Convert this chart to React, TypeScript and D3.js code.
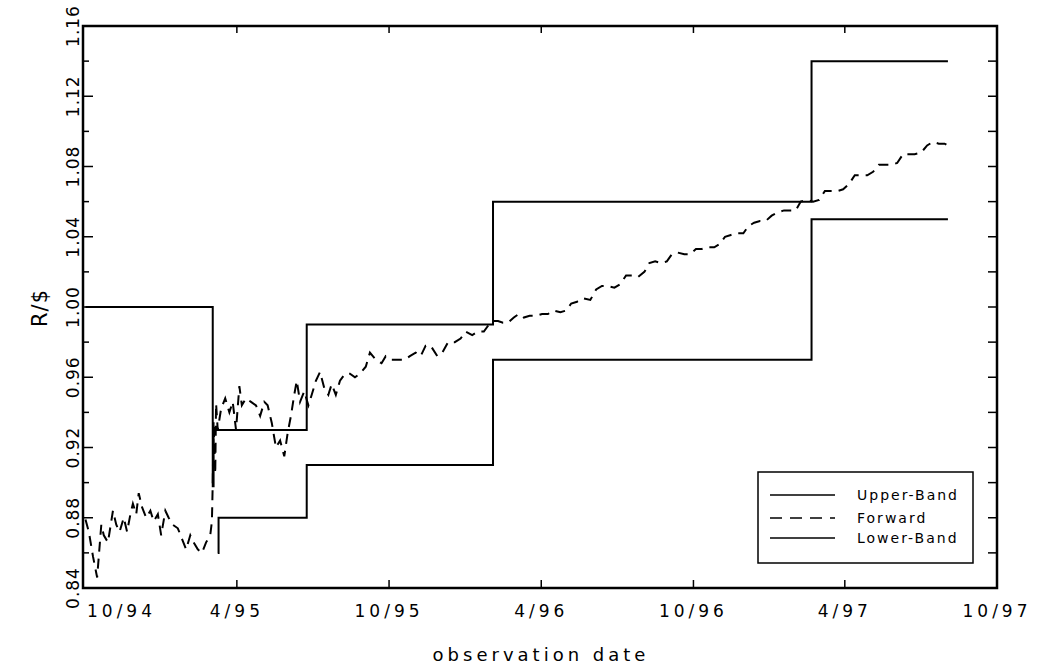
import * as d3 from 'd3'
import React from 'react'

type Pt = [string, number]

// step bands: value holds from the date until the next entry
const upperBand: Pt[] = [
  ['1994-10-01', 1.00], ['1995-03-03', 0.898], ['1995-03-04', 0.93],
  ['1995-06-24', 0.99], ['1996-02-03', 1.06], ['1997-02-20', 1.14], ['1997-08-03', 1.14],
]
const lowerBand: Pt[] = [
  ['1995-03-09', 0.86], ['1995-03-10', 0.88], ['1995-06-24', 0.91],
  ['1996-02-03', 0.97], ['1997-02-20', 1.05], ['1997-08-03', 1.05],
]
const forward: Pt[] = [
  ['1994-10-01', 0.879], ['1994-10-05', 0.872], ['1994-10-10', 0.858], ['1994-10-15', 0.846],
  ['1994-10-20', 0.876], ['1994-10-23', 0.870], ['1994-10-28', 0.866], ['1994-11-03', 0.884],
  ['1994-11-07', 0.876], ['1994-11-11', 0.872], ['1994-11-16', 0.880], ['1994-11-20', 0.872],
  ['1994-11-24', 0.882], ['1994-11-27', 0.888], ['1994-12-01', 0.882], ['1994-12-04', 0.894],
  ['1994-12-08', 0.886], ['1994-12-13', 0.880], ['1994-12-18', 0.884], ['1994-12-22', 0.878],
  ['1994-12-27', 0.882], ['1994-12-31', 0.870], ['1995-01-05', 0.884], ['1995-01-09', 0.880],
  ['1995-01-14', 0.876], ['1995-01-20', 0.874], ['1995-01-25', 0.868], ['1995-01-30', 0.862],
  ['1995-02-04', 0.870], ['1995-02-08', 0.866], ['1995-02-13', 0.862], ['1995-02-18', 0.860],
  ['1995-02-23', 0.866], ['1995-02-28', 0.870], ['1995-03-02', 0.878], ['1995-03-03', 0.900],
  ['1995-03-04', 0.935], ['1995-03-06', 0.905], ['1995-03-07', 0.945], ['1995-03-09', 0.930],
  ['1995-03-13', 0.942], ['1995-03-18', 0.948], ['1995-03-23', 0.940], ['1995-03-27', 0.946],
  ['1995-03-31', 0.930], ['1995-04-04', 0.955], ['1995-04-07', 0.944], ['1995-04-12', 0.948],
  ['1995-04-18', 0.946], ['1995-04-24', 0.944], ['1995-04-29', 0.938], ['1995-05-04', 0.946],
  ['1995-05-08', 0.944], ['1995-05-13', 0.934], ['1995-05-18', 0.920], ['1995-05-23', 0.924],
  ['1995-05-28', 0.915], ['1995-06-01', 0.928], ['1995-06-05', 0.938], ['1995-06-09', 0.950],
  ['1995-06-12', 0.958], ['1995-06-16', 0.946], ['1995-06-21', 0.952], ['1995-06-26', 0.944],
  ['1995-06-30', 0.950], ['1995-07-05', 0.958], ['1995-07-10', 0.963], ['1995-07-15', 0.954],
  ['1995-07-20', 0.950], ['1995-07-24', 0.956], ['1995-07-29', 0.950], ['1995-08-03', 0.958],
  ['1995-08-09', 0.962], ['1995-08-15', 0.962], ['1995-08-21', 0.960], ['1995-08-27', 0.962],
  ['1995-09-03', 0.966], ['1995-09-08', 0.974], ['1995-09-15', 0.970], ['1995-09-22', 0.968],
  ['1995-09-27', 0.972], ['1995-10-04', 0.970], ['1995-10-12', 0.970], ['1995-10-20', 0.970],
  ['1995-10-26', 0.972], ['1995-11-02', 0.974], ['1995-11-08', 0.972], ['1995-11-14', 0.978],
  ['1995-11-20', 0.978], ['1995-11-28', 0.972], ['1995-12-04', 0.974], ['1995-12-11', 0.980],
  ['1995-12-19', 0.980], ['1995-12-26', 0.982], ['1996-01-01', 0.986], ['1996-01-09', 0.984],
  ['1996-01-16', 0.986], ['1996-01-23', 0.986], ['1996-01-29', 0.990], ['1996-02-03', 0.992],
  ['1996-02-09', 0.992], ['1996-02-15', 0.991], ['1996-02-21', 0.991], ['1996-02-28', 0.994],
  ['1996-03-05', 0.996], ['1996-03-11', 0.994], ['1996-03-18', 0.995], ['1996-03-26', 0.995],
  ['1996-04-02', 0.996], ['1996-04-09', 0.996], ['1996-04-16', 0.998], ['1996-04-24', 0.997],
  ['1996-05-01', 0.998], ['1996-05-07', 1.002], ['1996-05-14', 1.003], ['1996-05-21', 1.005],
  ['1996-05-30', 1.004], ['1996-06-06', 1.010], ['1996-06-13', 1.012], ['1996-06-20', 1.012],
  ['1996-06-28', 1.011], ['1996-07-05', 1.013], ['1996-07-12', 1.018], ['1996-07-19', 1.018],
  ['1996-07-26', 1.017], ['1996-08-03', 1.020], ['1996-08-09', 1.025], ['1996-08-16', 1.026],
  ['1996-08-23', 1.025], ['1996-08-30', 1.026], ['1996-09-05', 1.030], ['1996-09-12', 1.031],
  ['1996-09-20', 1.030], ['1996-09-27', 1.030], ['1996-10-04', 1.033], ['1996-10-11', 1.033],
  ['1996-10-18', 1.034], ['1996-10-26', 1.034], ['1996-11-02', 1.036], ['1996-11-08', 1.040],
  ['1996-11-15', 1.041], ['1996-11-22', 1.042], ['1996-11-30', 1.042], ['1996-12-06', 1.046],
  ['1996-12-13', 1.048], ['1996-12-20', 1.049], ['1996-12-27', 1.049], ['1997-01-03', 1.052],
  ['1997-01-11', 1.054], ['1997-01-18', 1.055], ['1997-01-25', 1.055], ['1997-02-01', 1.055],
  ['1997-02-07', 1.060], ['1997-02-15', 1.061], ['1997-02-22', 1.060], ['1997-03-01', 1.061],
  ['1997-03-08', 1.066], ['1997-03-15', 1.066], ['1997-03-23', 1.066], ['1997-03-30', 1.067],
  ['1997-04-06', 1.070], ['1997-04-13', 1.075], ['1997-04-20', 1.075], ['1997-04-28', 1.075],
  ['1997-05-05', 1.077], ['1997-05-12', 1.081], ['1997-05-19', 1.081], ['1997-05-27', 1.081],
  ['1997-06-03', 1.082], ['1997-06-10', 1.087], ['1997-06-17', 1.087], ['1997-06-24', 1.087],
  ['1997-07-02', 1.088], ['1997-07-09', 1.092], ['1997-07-16', 1.094], ['1997-07-23', 1.093],
  ['1997-07-30', 1.093], ['1997-08-03', 1.092],
]

const xTickDates = ['1995-04-01', '1995-10-01', '1996-04-01', '1996-10-01', '1997-04-01']
const xTickLabels = ['10/94', '4/95', '10/95', '4/96', '10/96', '4/97', '10/97']
const yTicks = d3.range(0.84, 1.1601, 0.02)
const legendItems = ['Upper-Band', 'Forward', 'Lower-Band']

const W = 1045, H = 667
const frame = { left: 83, right: 997, top: 26, bottom: 588 }
const font = '"DejaVu Sans", Arial, sans-serif'

const parse = d3.timeParse('%Y-%m-%d')

export default function App() {
  const
    x = d3.scaleTime()
      .domain([parse('1994-10-01')!, parse('1997-10-01')!])
      .range([85.5, frame.right]),
    y = d3.scaleLinear().domain([0.84, 1.16]).range([frame.bottom, frame.top]),
    step = d3.line<Pt>().x(d => x(parse(d[0])!)).y(d => y(d[1])).curve(d3.curveStepAfter),
    line = d3.line<Pt>().x(d => x(parse(d[0])!)).y(d => y(d[1])),
    labelDates = [x.domain()[0], ...xTickDates.map(s => parse(s)!), x.domain()[1]]

  const lg = { x: 758, y: 472, w: 215, h: 91 }

  return (
    <svg width={W} height={H} style={{ position: 'absolute', left: 0, top: 0, background: '#fff' }}
      fontFamily={font}>
      <rect width={W} height={H} fill='#fff' />

      <path d={step(upperBand)!} fill='none' stroke='#000' strokeWidth={2} />
      <path d={step(lowerBand)!} fill='none' stroke='#000' strokeWidth={2} />
      <path d={line(forward)!} fill='none' stroke='#000' strokeWidth={2} strokeDasharray='10,7' />

      {/* frame + ticks */}
      <rect x={frame.left} y={frame.top} width={frame.right - frame.left} height={frame.bottom - frame.top}
        fill='none' stroke='#000' strokeWidth={2.5} />
      {yTicks.map((v, i) => {
        const major = i % 2 === 0
        return (
          <g key={i}>
            <line x1={frame.left} x2={frame.left + (major ? 10 : 6)} y1={y(v)} y2={y(v)} stroke='#000' strokeWidth={1.5} />
            <line x1={frame.right} x2={frame.right - 9} y1={y(v)} y2={y(v)} stroke='#000' strokeWidth={1.5} />
            {major &&
              <text transform={`translate(79,${y(v)}) rotate(-90)`} textAnchor='middle' fontSize={17}
                letterSpacing={1}>{v.toFixed(2)}</text>}
          </g>
        )
      })}
      {xTickDates.map((s, i) => {
        const px = x(parse(s)!)
        return (
          <g key={i}>
            <line x1={px} x2={px} y1={frame.bottom} y2={frame.bottom - 8} stroke='#000' strokeWidth={1.5} />
            <line x1={px} x2={px} y1={frame.top} y2={frame.top + 7} stroke='#000' strokeWidth={1.5} />
          </g>
        )
      })}
      {labelDates.map((d, i) => (
        <text key={i} x={i === 0 ? 87 : x(d)} y={617} fontSize={17} letterSpacing={4}
          textAnchor={i === 0 ? 'start' : 'middle'}>{xTickLabels[i]}</text>
      ))}

      <text x={541} y={661} fontSize={18} letterSpacing={4} textAnchor='middle'>observation date</text>
      <text transform='translate(47,308) rotate(-90)' fontSize={21} letterSpacing={1} textAnchor='middle'>R/$</text>

      {/* legend */}
      <rect x={lg.x} y={lg.y} width={lg.w} height={lg.h} fill='#fff' stroke='#000' strokeWidth={1.5} />
      {legendItems.map((name, i) => {
        const ly = [495, 518, 538][i]
        return (
          <g key={name}>
            <line x1={770} x2={835} y1={ly} y2={ly} stroke='#000' strokeWidth={1.5}
              strokeDasharray={i === 1 ? '12,8' : undefined} />
            <text x={857} y={ly + 5} fontSize={14} letterSpacing={2}>{name}</text>
          </g>
        )
      })}
    </svg>
  )
}
